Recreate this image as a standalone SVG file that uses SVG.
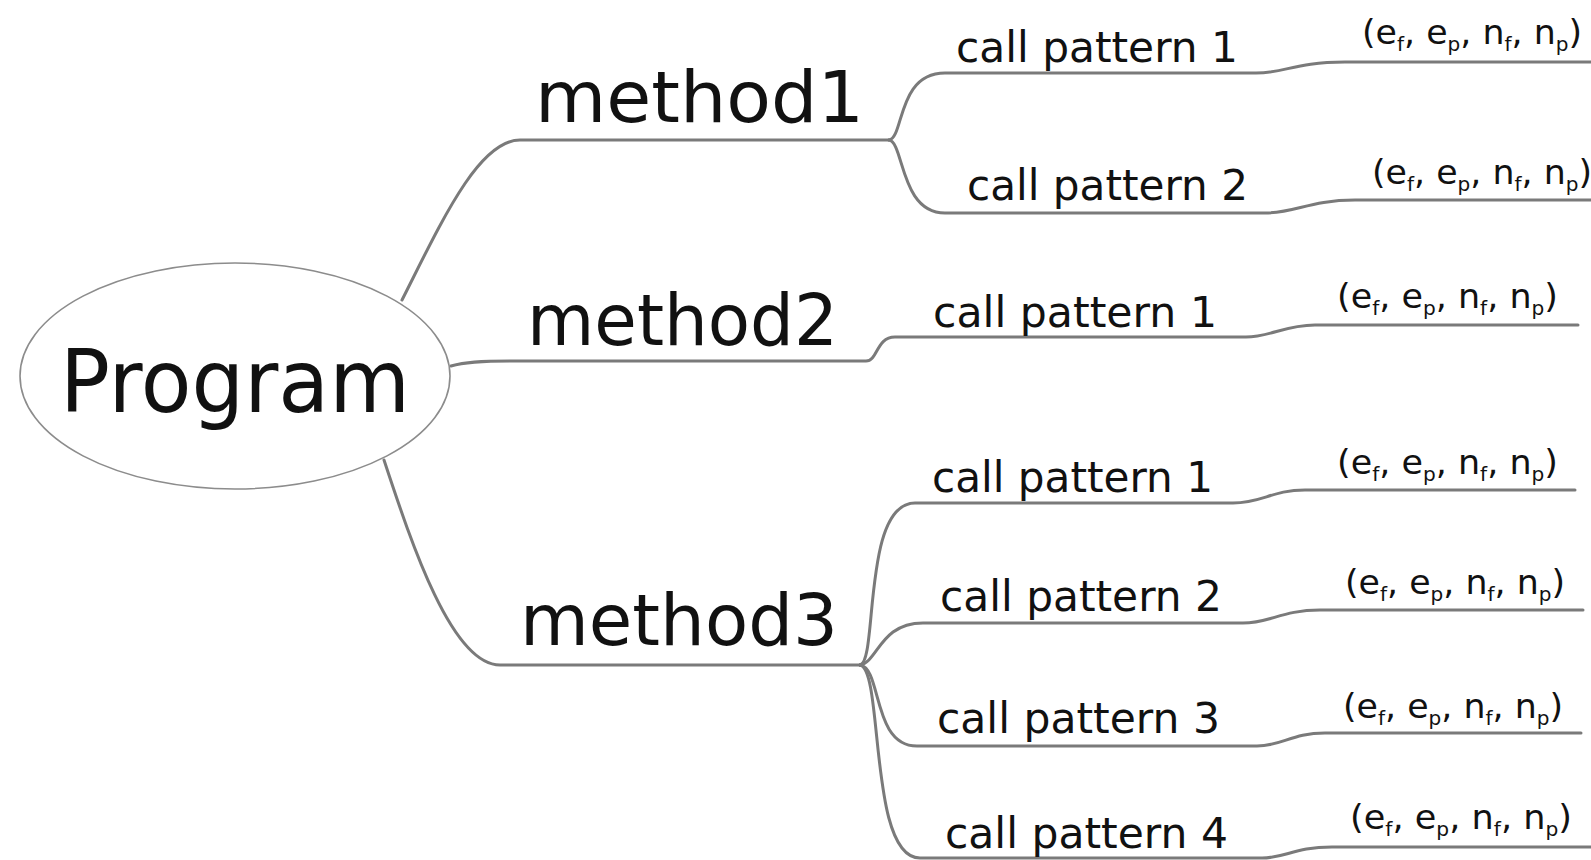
<svg xmlns="http://www.w3.org/2000/svg" width="1591" height="860" viewBox="0 0 1591 860">
  <style>
    .bg { fill: #ffffff; }
    .edge { fill: none; stroke: #7a7a7a; stroke-width: 3; stroke-linecap: round; stroke-linejoin: round; }
    .root-shape { fill: #ffffff; stroke: #8c8c8c; stroke-width: 1.6; }
    text { font-family: "DejaVu Sans", "Liberation Sans", sans-serif; fill: #111111; }
    .root { font-size: 88px; }
    .method { font-size: 72px; }
    .call { font-size: 42px; }
    .tuple { font-size: 33px; }
    .sub { font-size: 19px; }
  </style>
  <rect class="bg" x="0" y="0" width="1591" height="860"/>

  <!-- branch lines -->
  <g id="connectors">
    <!-- Program -> method1 -> call patterns -->
    <path class="edge" d="M 402 300 C 440 225, 478 140, 520 140 L 889 140"/>
    <path class="edge" d="M 889 140 C 904 138, 897 73, 945 73 L 1256 73 C 1285 73, 1295 62, 1345 62 L 1591 62"/>
    <path class="edge" d="M 889 140 C 904 142, 900 213, 945 213 L 1265 213 C 1295 213, 1310 200, 1355 200 L 1591 200"/>
    <!-- Program -> method2 -> call pattern -->
    <path class="edge" d="M 451 366 C 465 362, 480 361, 510 361 L 866 361 C 878 361, 876 337, 895 337 L 1246 337 C 1270 337, 1285 325, 1315 325 L 1578 325"/>
    <!-- Program -> method3 -> call patterns -->
    <path class="edge" d="M 384 460 C 412 545, 452 665, 500 665 L 860 665"/>
    <path class="edge" d="M 860 665 C 878 662, 862 503, 915 503 L 1233 503 C 1262 503, 1272 490, 1305 490 L 1575 490"/>
    <path class="edge" d="M 860 665 C 878 662, 880 623, 923 623 L 1243 623 C 1270 623, 1282 610, 1320 610 L 1583 610"/>
    <path class="edge" d="M 860 665 C 882 668, 872 746, 917 746 L 1257 746 C 1282 746, 1292 733, 1325 733 L 1581 733"/>
    <path class="edge" d="M 860 665 C 884 670, 868 858, 920 858 L 1262 858 C 1285 858, 1295 847, 1332 847 L 1591 847"/>
  </g>

  <g id="node-program">
    <ellipse class="root-shape" cx="235" cy="376" rx="215" ry="113"/>
    <text class="root" x="60" y="412" textLength="350" lengthAdjust="spacingAndGlyphs">Program</text>
  </g>

  <g id="node-method1">
    <text class="method" x="535" y="122" textLength="329" lengthAdjust="spacingAndGlyphs">method1</text>
  </g>
  <g id="node-method2">
    <text class="method" x="527" y="345" textLength="311" lengthAdjust="spacingAndGlyphs">method2</text>
  </g>
  <g id="node-method3">
    <text class="method" x="520" y="645" textLength="318" lengthAdjust="spacingAndGlyphs">method3</text>
  </g>

  <g id="node-m1-cp1"><text class="call" x="956" y="62" textLength="282" lengthAdjust="spacingAndGlyphs">call pattern 1</text></g>
  <g id="node-m1-cp2"><text class="call" x="967" y="200" textLength="281" lengthAdjust="spacingAndGlyphs">call pattern 2</text></g>
  <g id="node-m2-cp1"><text class="call" x="933" y="327" textLength="284" lengthAdjust="spacingAndGlyphs">call pattern 1</text></g>
  <g id="node-m3-cp1"><text class="call" x="932" y="492" textLength="281" lengthAdjust="spacingAndGlyphs">call pattern 1</text></g>
  <g id="node-m3-cp2"><text class="call" x="940" y="611" textLength="282" lengthAdjust="spacingAndGlyphs">call pattern 2</text></g>
  <g id="node-m3-cp3"><text class="call" x="937" y="733" textLength="283" lengthAdjust="spacingAndGlyphs">call pattern 3</text></g>
  <g id="node-m3-cp4"><text class="call" x="945" y="848" textLength="283" lengthAdjust="spacingAndGlyphs">call pattern 4</text></g>

  <g id="node-m1-cp1-tuple"><text class="tuple" x="1362" y="44" textLength="220" lengthAdjust="spacingAndGlyphs">(e<tspan class="sub" dy="7">f</tspan><tspan dy="-7">, e</tspan><tspan class="sub" dy="7">p</tspan><tspan dy="-7">, n</tspan><tspan class="sub" dy="7">f</tspan><tspan dy="-7">, n</tspan><tspan class="sub" dy="7">p</tspan><tspan dy="-7">)</tspan></text></g>
  <g id="node-m1-cp2-tuple"><text class="tuple" x="1372" y="184" textLength="220" lengthAdjust="spacingAndGlyphs">(e<tspan class="sub" dy="7">f</tspan><tspan dy="-7">, e</tspan><tspan class="sub" dy="7">p</tspan><tspan dy="-7">, n</tspan><tspan class="sub" dy="7">f</tspan><tspan dy="-7">, n</tspan><tspan class="sub" dy="7">p</tspan><tspan dy="-7">)</tspan></text></g>
  <g id="node-m2-cp1-tuple"><text class="tuple" x="1337" y="308" textLength="221" lengthAdjust="spacingAndGlyphs">(e<tspan class="sub" dy="7">f</tspan><tspan dy="-7">, e</tspan><tspan class="sub" dy="7">p</tspan><tspan dy="-7">, n</tspan><tspan class="sub" dy="7">f</tspan><tspan dy="-7">, n</tspan><tspan class="sub" dy="7">p</tspan><tspan dy="-7">)</tspan></text></g>
  <g id="node-m3-cp1-tuple"><text class="tuple" x="1337" y="474" textLength="221" lengthAdjust="spacingAndGlyphs">(e<tspan class="sub" dy="7">f</tspan><tspan dy="-7">, e</tspan><tspan class="sub" dy="7">p</tspan><tspan dy="-7">, n</tspan><tspan class="sub" dy="7">f</tspan><tspan dy="-7">, n</tspan><tspan class="sub" dy="7">p</tspan><tspan dy="-7">)</tspan></text></g>
  <g id="node-m3-cp2-tuple"><text class="tuple" x="1345" y="594" textLength="220" lengthAdjust="spacingAndGlyphs">(e<tspan class="sub" dy="7">f</tspan><tspan dy="-7">, e</tspan><tspan class="sub" dy="7">p</tspan><tspan dy="-7">, n</tspan><tspan class="sub" dy="7">f</tspan><tspan dy="-7">, n</tspan><tspan class="sub" dy="7">p</tspan><tspan dy="-7">)</tspan></text></g>
  <g id="node-m3-cp3-tuple"><text class="tuple" x="1343" y="718" textLength="220" lengthAdjust="spacingAndGlyphs">(e<tspan class="sub" dy="7">f</tspan><tspan dy="-7">, e</tspan><tspan class="sub" dy="7">p</tspan><tspan dy="-7">, n</tspan><tspan class="sub" dy="7">f</tspan><tspan dy="-7">, n</tspan><tspan class="sub" dy="7">p</tspan><tspan dy="-7">)</tspan></text></g>
  <g id="node-m3-cp4-tuple"><text class="tuple" x="1350" y="829" textLength="222" lengthAdjust="spacingAndGlyphs">(e<tspan class="sub" dy="7">f</tspan><tspan dy="-7">, e</tspan><tspan class="sub" dy="7">p</tspan><tspan dy="-7">, n</tspan><tspan class="sub" dy="7">f</tspan><tspan dy="-7">, n</tspan><tspan class="sub" dy="7">p</tspan><tspan dy="-7">)</tspan></text></g>
</svg>
